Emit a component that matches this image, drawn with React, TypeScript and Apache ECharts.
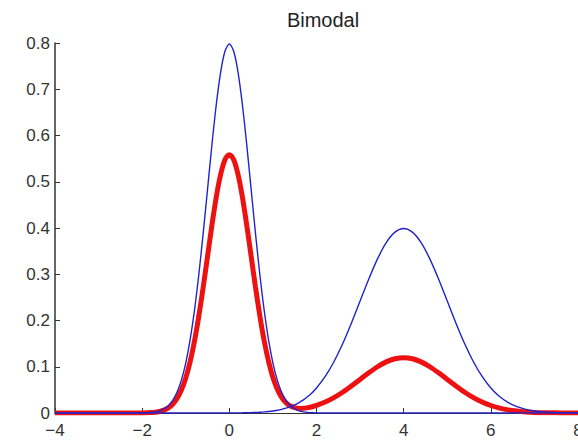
import React, { useEffect, useRef } from "react";
import * as echarts from "echarts";

const titleText = "Bimodal";

const xValues = [
  -4, -3, -2.5, -2.2, -2.0, -1.9, -1.8, -1.7, -1.6, -1.5, -1.4, -1.3, -1.2, -1.1, -1.0,
  -0.9, -0.8, -0.7, -0.6, -0.5, -0.4, -0.3, -0.2, -0.1, 0, 0.1, 0.2, 0.3, 0.4, 0.5, 0.6,
  0.7, 0.8, 0.9, 1.0, 1.1, 1.2, 1.3, 1.4, 1.5, 1.6, 1.7, 1.8, 1.9, 2.0, 2.2, 2.4, 2.6,
  2.8, 3.0, 3.2, 3.4, 3.6, 3.8, 4.0, 4.2, 4.4, 4.6, 4.8, 5.0, 5.2, 5.4, 5.6, 5.8, 6.0,
  6.2, 6.4, 6.6, 6.8, 7.0, 7.2, 7.4, 7.6, 7.8, 8.0,
];

// blue: narrow component near 0
const blueLeft = [
  0, 0, 0, 0.00005, 0.00027, 0.00058, 0.00122, 0.00246, 0.00477, 0.00887, 0.0158, 0.0272,
  0.0448, 0.071, 0.108, 0.1579, 0.2218, 0.2995, 0.3884, 0.4839, 0.5794, 0.6665, 0.7366,
  0.7821, 0.7979, 0.7821, 0.7366, 0.6665, 0.5794, 0.4839, 0.3884, 0.2995, 0.2218, 0.1579,
  0.108, 0.071, 0.0448, 0.0272, 0.0158, 0.00887, 0.00477, 0.00246, 0.00122, 0.00058,
  0.00027, 0.00005, 0, 0, 0, 0, 0, 0, 0, 0, 0, 0, 0, 0, 0, 0, 0, 0, 0, 0, 0, 0, 0, 0, 0,
  0, 0, 0, 0, 0, 0,
];

// blue: wide component near 4
const blueRight = [
  0, 0, 0, 0, 0, 0, 0, 0, 0, 0, 0, 0, 0, 0, 0, 0, 0, 0, 0, 0, 0, 0, 0.00001, 0.00002,
  0.00013, 0.0002, 0.0003, 0.0004, 0.0006, 0.0009, 0.0012, 0.0017, 0.0024, 0.0033, 0.0044,
  0.006, 0.0079, 0.0104, 0.0136, 0.0175, 0.0224, 0.0283, 0.0355, 0.044, 0.054, 0.079,
  0.1109, 0.1497, 0.1942, 0.242, 0.2897, 0.3332, 0.3683, 0.391, 0.3989, 0.391, 0.3683,
  0.3332, 0.2897, 0.242, 0.1942, 0.1497, 0.1109, 0.079, 0.054, 0.0355, 0.0224, 0.0136,
  0.0079, 0.0044, 0.0024, 0.0012, 0.0006, 0.0003, 0.0001,
];

// red: mixture
const redMix = [
  0, 0, 0, 0.00004, 0.00019, 0.00041, 0.00085, 0.00172, 0.00334, 0.00621, 0.0111, 0.019,
  0.0314, 0.0497, 0.0756, 0.1105, 0.1553, 0.2097, 0.2719, 0.3387, 0.4056, 0.4666, 0.5156,
  0.5475, 0.5586, 0.5475, 0.5157, 0.4667, 0.4058, 0.339, 0.2723, 0.2102, 0.156, 0.1115,
  0.0769, 0.0515, 0.0338, 0.0221, 0.0152, 0.0115, 0.01, 0.0102, 0.0116, 0.0136, 0.0164,
  0.0237, 0.0333, 0.0449, 0.0583, 0.0726, 0.0869, 0.1, 0.1105, 0.1173, 0.1197, 0.1173,
  0.1105, 0.1, 0.0869, 0.0726, 0.0583, 0.0449, 0.0333, 0.0237, 0.0162, 0.0107, 0.0067,
  0.0041, 0.0024, 0.0013, 0.0007, 0.0004, 0.0002, 0.0001, 0,
];

const pairs = (ys: number[]) => xValues.map((x, i) => [x, ys[i]]);

export default function App() {
  const ref = useRef<HTMLDivElement>(null);
  useEffect(() => {
    document.body.style.margin = "0";
    const chart = echarts.init(ref.current!, null, { renderer: "svg" });
    const font = "'Liberation Sans', Arial, sans-serif";
    chart.setOption({
      animation: false,
      backgroundColor: "#ffffff",
      title: {
        text: titleText,
        left: 318,
        textAlign: "center",
        top: 5,
        textStyle: { fontFamily: font, fontSize: 20, fontWeight: "normal", color: "#222" },
      },
      grid: {
        left: 55,
        right: 0,
        top: 43,
        bottom: 30,
        containLabel: false,
        outerBoundsMode: "none",
      },
      xAxis: {
        type: "value",
        min: -4,
        max: 8,
        interval: 2,
        axisLine: { show: true, onZero: false, lineStyle: { color: "#333", width: 1 } },
        axisTick: { show: true, inside: true, length: 5, lineStyle: { color: "#333" } },
        splitLine: { show: false },
        axisLabel: {
          fontFamily: font,
          fontSize: 17,
          color: "#333",
          margin: 9,
          hideOverlap: false,
          formatter: (v: number) => String(v).replace("-", "\u2212"),
        },
      },
      yAxis: {
        type: "value",
        min: 0,
        max: 0.8,
        interval: 0.1,
        axisLine: { show: true, onZero: false, lineStyle: { color: "#333", width: 1.5 } },
        axisTick: { show: true, inside: true, length: 5, lineStyle: { color: "#333" } },
        splitLine: { show: false },
        axisLabel: {
          fontFamily: font,
          fontSize: 17,
          color: "#333",
          margin: 5,
          formatter: (v: number) => (v === 0 ? "0" : v.toFixed(1)),
        },
      },
      series: [
        {
          type: "line",
          data: pairs(redMix),
          showSymbol: false,
          smooth: 0.3,
          lineStyle: { color: "#ee1111", width: 5 },
          z: 2,
        },
        {
          type: "line",
          data: pairs(blueLeft),
          showSymbol: false,
          smooth: 0.3,
          lineStyle: { color: "#2222cc", width: 1.4 },
          z: 3,
        },
        {
          type: "line",
          data: pairs(blueRight),
          showSymbol: false,
          smooth: 0.3,
          lineStyle: { color: "#2222cc", width: 1.4 },
          z: 3,
        },
      ],
    });
    return () => chart.dispose();
  }, []);
  return <div ref={ref} style={{ width: 578, height: 443 }} />;
}
